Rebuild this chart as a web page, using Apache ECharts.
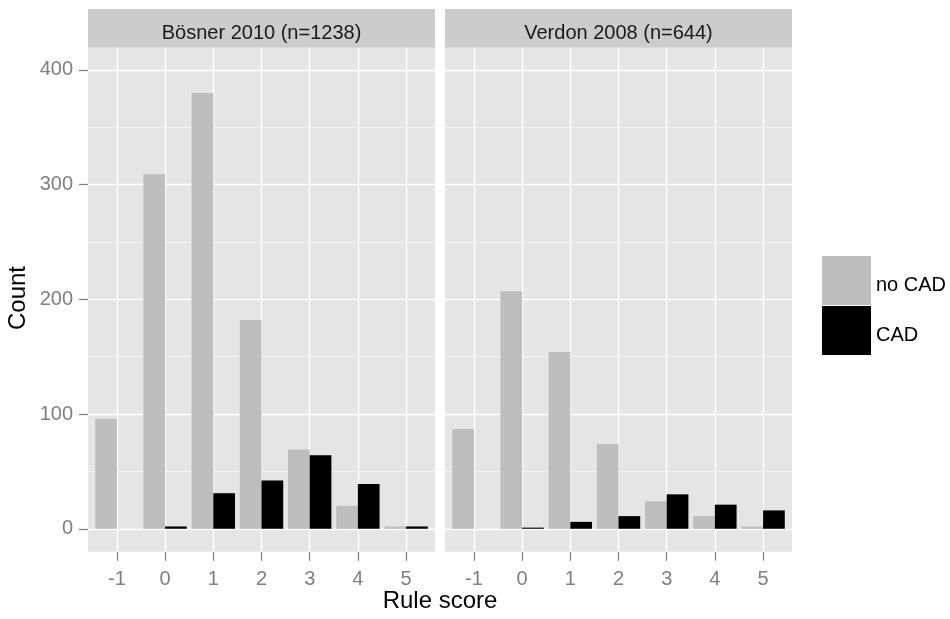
<!DOCTYPE html>
<html><head><meta charset="utf-8">
<script src="https://cdn.jsdelivr.net/npm/echarts@6/dist/echarts.min.js"></script>
<style>html,body{margin:0;padding:0;background:#fff}#c{width:950px;height:619px}</style>
</head><body><div id="c"></div>
<script>
const scores = [-1, 0, 1, 2, 3, 4, 5];
const panelTitles = ['Bösner 2010 (n=1238)', 'Verdon 2008 (n=644)'];
const seriesNames = ['no CAD', 'CAD'];
const boesnerNoCAD = [96, 309, 380, 182, 69, 20, 2];
const boesnerCAD = [0, 2, 31, 42, 64, 39, 2];
const verdonNoCAD = [87, 207, 154, 74, 24, 11, 2];
const verdonCAD = [0, 1, 6, 11, 30, 21, 16];
const yTicks = [0, 100, 200, 300, 400];
const yMinor = [50, 150, 250, 350];

const FONT = '"Liberation Sans", Arial, sans-serif';
const panelLefts = [88, 445];
const PW = 347, PT = 47.7, PH = 504;
const panelData = [[boesnerNoCAD, boesnerCAD], [verdonNoCAD, verdonCAD]];
const colors = ['#BEBEBE', '#000000'];

const grids = [], xAxes = [], yAxes = [], series = [], graphics = [];
panelLefts.forEach((left, p) => {
  grids.push({left: left, top: PT, width: PW, height: PH, show: true,
    backgroundColor: '#E5E5E5', borderWidth: 0, containLabel: false});
  xAxes.push({type: 'value', gridIndex: p, min: -1.6, max: 5.6, position: 'bottom',
    axisLine: {show: false, onZero: false},
    axisTick: {show: true, customValues: scores, length: 9, lineStyle: {color: '#7F7F7F', width: 1.2}},
    axisLabel: {show: true, customValues: scores, margin: 18, fontSize: 20, color: '#7F7F7F', fontFamily: FONT},
    splitLine: {show: false}, minorSplitLine: {show: false}});
  yAxes.push({type: 'value', gridIndex: p, min: -20, max: 419.4, position: 'left',
    axisLine: {show: false, onZero: false},
    axisTick: {show: p === 0, customValues: yTicks, length: 9, lineStyle: {color: '#7F7F7F', width: 1.2}},
    axisLabel: {show: p === 0, customValues: yTicks, margin: 15, fontSize: 20, color: '#7F7F7F', fontFamily: FONT},
    splitLine: {show: false}, minorSplitLine: {show: false}});
  const lines = []
    .concat(yMinor.map(v => ({yAxis: v, lineStyle: {color: '#F2F2F2', width: 1, type: 'solid'}})))
    .concat(yTicks.map(v => ({yAxis: v, lineStyle: {color: '#FFFFFF', width: 1.3, type: 'solid'}})))
    .concat(scores.map(v => ({xAxis: v, lineStyle: {color: '#FFFFFF', width: 1.3, type: 'solid'}})));
  series.push({type: 'line', name: 'grid' + p, xAxisIndex: p, yAxisIndex: p, data: [],
    silent: true, z: 1,
    markLine: {silent: true, z: 1, symbol: ['none', 'none'], label: {show: false},
      emphasis: {disabled: true}, animation: false, data: lines}});
  panelData[p].forEach((vals, s) => {
    series.push({type: 'bar', name: seriesNames[s], xAxisIndex: p, yAxisIndex: p,
      data: scores.map((x, i) => [x, vals[i]]),
      barWidth: 21.7, barGap: '0%', itemStyle: {color: colors[s]}, silent: true});
  });
  graphics.push({type: 'rect', shape: {x: left, y: 9, width: PW, height: PT - 9},
    style: {fill: '#CCCCCC'}, silent: true});
  graphics.push({type: 'text', x: left + PW / 2, y: 33,
    style: {text: panelTitles[p], fontSize: 20, fontFamily: FONT, fill: '#1A1A1A',
      align: 'center', verticalAlign: 'middle'}, silent: true});
});
graphics.push({type: 'text', x: 18, y: 298, rotation: Math.PI / 2,
  style: {text: 'Count', fontSize: 24, fontFamily: FONT, fill: '#000',
    align: 'center', verticalAlign: 'middle'}, silent: true});
graphics.push({type: 'text', x: 440, y: 601,
  style: {text: 'Rule score', fontSize: 24, fontFamily: FONT, fill: '#000',
    align: 'center', verticalAlign: 'middle'}, silent: true});

const chart = echarts.init(document.getElementById('c'), null, {renderer: 'canvas'});
chart.setOption({
  animation: false,
  backgroundColor: '#FFFFFF',
  grid: grids, xAxis: xAxes, yAxis: yAxes, series: series,
  legend: {data: seriesNames, orient: 'vertical', left: 822, top: 256, padding: 0,
    itemWidth: 49, itemHeight: 49, itemGap: 1, icon: 'rect', selectedMode: false,
    formatter: n => '{t|' + n + '}',
    textStyle: {fontSize: 20, fontFamily: FONT, color: '#000',
      rich: {t: {fontSize: 20, fontFamily: FONT, color: '#000', padding: [10, 0, 0, 0]}}}},
  graphic: graphics
});
</script></body></html>
